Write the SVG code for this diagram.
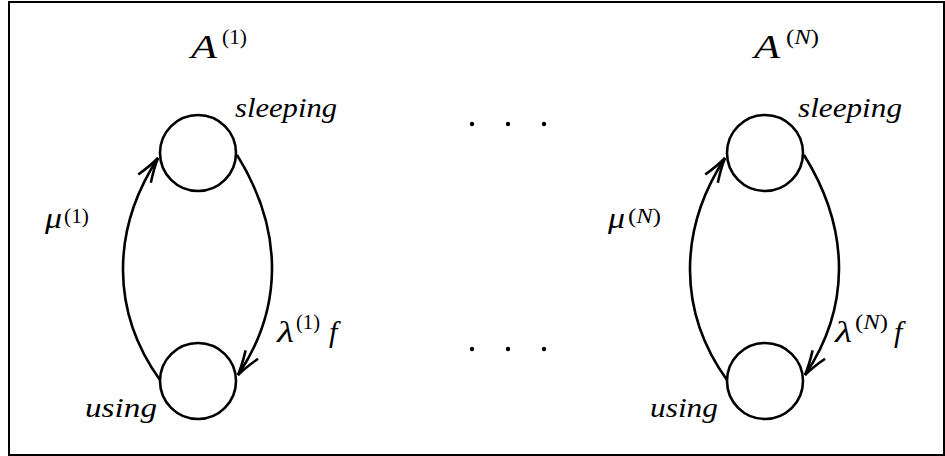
<svg xmlns="http://www.w3.org/2000/svg" width="945" height="456" viewBox="0 0 945 456">
<style>
.frame{fill:#fff;stroke:#000;stroke-width:2}
.state{fill:#fff;stroke:#000;stroke-width:2.6}
.edge{fill:none;stroke:#000;stroke-width:2.6}
text{font-family:'Liberation Serif','Times New Roman',serif;fill:#000}
.i{font-style:italic}
.dot{fill:#000}
</style>
<defs>
<marker id="arr" markerUnits="userSpaceOnUse" markerWidth="30" markerHeight="30" refX="0" refY="0" viewBox="-26 -10 28 20" orient="auto">
<path d="M-23,-7 Q-10,-2 0,0 Q-10,2 -23,7" fill="none" stroke="#000" stroke-width="2.4"/>
</marker>
</defs>
<rect class="frame" x="9" y="2" width="935" height="453"/>
<g id="connectors">
<path class="edge" d="M160,380 C111,312 111,230 158,158" marker-end="url(#arr)"/>
<path class="edge" d="M237,155 C285,232 282,310 238,375" marker-end="url(#arr)"/>
<path class="edge" d="M727,380 C678,312 678,230 725,158" marker-end="url(#arr)"/>
<path class="edge" d="M804,155 C852,232 849,310 805,375" marker-end="url(#arr)"/>
</g>
<g id="title1">
<text class="i" x="191" y="58" font-size="34" textLength="26" lengthAdjust="spacingAndGlyphs">A</text>
<text x="222" y="44" font-size="22" textLength="25" lengthAdjust="spacingAndGlyphs">(1)</text>
</g>
<g id="titleN">
<text class="i" x="754" y="58" font-size="34" textLength="26" lengthAdjust="spacingAndGlyphs">A</text>
<text x="786" y="44" font-size="22" textLength="33" lengthAdjust="spacingAndGlyphs">(<tspan class="i">N</tspan>)</text>
</g>
<g id="sleeping1">
<circle class="state" cx="198" cy="153" r="38"/>
<text class="i" x="235" y="117" font-size="28" textLength="102" lengthAdjust="spacingAndGlyphs">sleeping</text>
</g>
<g id="using1">
<circle class="state" cx="198" cy="381" r="38"/>
<text class="i" x="85" y="417" font-size="28" textLength="72" lengthAdjust="spacingAndGlyphs">using</text>
</g>
<g id="sleepingN">
<circle class="state" cx="765" cy="153" r="38"/>
<text class="i" x="798" y="117" font-size="28" textLength="104" lengthAdjust="spacingAndGlyphs">sleeping</text>
</g>
<g id="usingN">
<circle class="state" cx="765" cy="381" r="38"/>
<text class="i" x="650" y="417" font-size="28" textLength="68" lengthAdjust="spacingAndGlyphs">using</text>
</g>
<g id="labels">
<text class="i" x="45" y="228" font-size="30" textLength="17" lengthAdjust="spacingAndGlyphs">μ</text>
<text x="64" y="223" font-size="22" textLength="25" lengthAdjust="spacingAndGlyphs">(1)</text>
<text class="i" x="277" y="342" font-size="30" textLength="17" lengthAdjust="spacingAndGlyphs">λ</text>
<text x="296" y="329" font-size="22" textLength="24" lengthAdjust="spacingAndGlyphs">(1)</text>
<text class="i" x="329" y="342" font-size="30">f</text>
<text class="i" x="608" y="228" font-size="30" textLength="17" lengthAdjust="spacingAndGlyphs">μ</text>
<text x="628" y="223" font-size="22" textLength="33" lengthAdjust="spacingAndGlyphs">(<tspan class="i">N</tspan>)</text>
<text class="i" x="835" y="342" font-size="30" textLength="17" lengthAdjust="spacingAndGlyphs">λ</text>
<text x="855" y="329" font-size="22" textLength="33" lengthAdjust="spacingAndGlyphs">(<tspan class="i">N</tspan>)</text>
<text class="i" x="894" y="342" font-size="30">f</text>
</g>
<g id="dots">
<circle class="dot" cx="472" cy="124" r="2.2"/>
<circle class="dot" cx="508" cy="124" r="2.2"/>
<circle class="dot" cx="544" cy="124" r="2.2"/>
<circle class="dot" cx="472" cy="349" r="2.2"/>
<circle class="dot" cx="508" cy="349" r="2.2"/>
<circle class="dot" cx="544" cy="349" r="2.2"/>
</g>
</svg>
